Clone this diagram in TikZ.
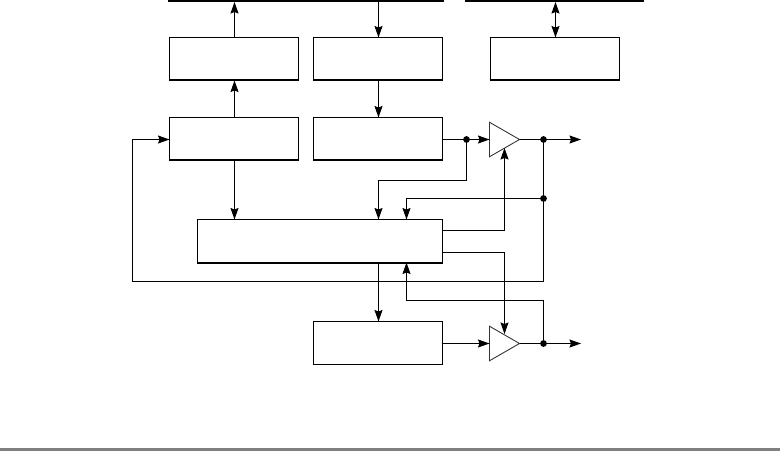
\documentclass[tikz,border=0pt]{standalone}
\usepackage{xcolor}
\usetikzlibrary{arrows.meta,shapes.geometric}

\tikzset{
  block/.style={draw, line width=0.6pt, outer sep=0pt, minimum width=25.8mm, minimum height=8.6mm, inner sep=0pt},
  amp/.style={draw=black!80, line width=0.5pt, outer sep=0pt, isosceles triangle, isosceles triangle stretches, minimum width=6.9mm, minimum height=6mm, inner sep=0pt},
  sig/.style={line width=0.6pt, -{Stealth[length=2.3mm,width=1.6mm,inset=0.3mm]}},
  sigboth/.style={line width=0.6pt, {Stealth[length=2.3mm,width=1.6mm,inset=0.3mm]}-{Stealth[length=2.3mm,width=1.6mm,inset=0.3mm]}},
  wire/.style={line width=0.6pt},
  dot/.style={circle, fill=black, minimum size=1.35mm, inner sep=0pt},
  bus/.style={line width=0.4mm}
}

\begin{document}
\begin{tikzpicture}[x=0.2mm,y=-0.2mm]
    \useasboundingbox (0,0) rectangle (780,451) ;
    % buses along the top
    \coordinate (busAL) at (168,1) ;
    \coordinate (busAR) at (444,1) ;
    \coordinate (busBL) at (465,1) ;
    \coordinate (busBR) at (644,1) ;
    \draw[bus] (busAL) -- (busAR) ;
    \draw[bus] (busBL) -- (busBR) ;
    % blocks
    \node[block] at (234,59) (outreg) {} ;
    \node[block] at (378,59) (inreg) {} ;
    \node[block] at (555,59) (ctlreg) {} ;
    \node[block] at (234,139) (txsr) {} ;
    \node[block] at (378,139) (rxsr) {} ;
    \node[block, minimum width=49mm] at (320,241) (logic) {} ;
    \node[block] at (378,343) (lower) {} ;
    \foreach \n in {outreg,inreg,ctlreg,txsr,rxsr,logic}
      \draw[bus, yshift=-0.1mm] (\n.south west) -- (\n.south east) ;
    % amplifiers
    \node[amp, anchor=lower side] at (489.5,139.5) (ampA) {} ;
    \node[amp, anchor=lower side] at (489.5,343.5) (ampB) {} ;
    % joints
    \node[dot] at (466.5,139.5) (jrx) {} ;
    \node[dot] at (543.5,139.5) (joutA) {} ;
    \node[dot] at (543.5,198.5) (jfb) {} ;
    \node[dot] at (543.5,343.5) (joutB) {} ;
    % columns the connectors run in
    \coordinate (colA) at (234.5,0) ;
    \coordinate (colB) at (378.5,0) ;
    \coordinate (colC) at (555.5,0) ;
    \coordinate (colD) at (406.5,0) ;
    % free ends
    \coordinate (endA) at (581,139.5) ;
    \coordinate (endB) at (581,343.5) ;
    \coordinate (ctlA) at (504.5,148) ;
    \coordinate (ctlB) at (504.5,334) ;
    \coordinate (logA) at (442.5,230.5) ;
    \coordinate (logB) at (442.5,252.5) ;
    % bus connections
    \draw[sig, shorten >=0.2mm] (colA |- outreg.north) -- (colA |- busAL) ;
    \draw[sig] (colB |- busAL) -- (colB |- inreg.north) ;
    \draw[sigboth, shorten <=0.2mm] (colC |- busBL) -- (colC |- ctlreg.north) ;
    % between the blocks
    \draw[sig] (colA |- txsr.north) -- (colA |- outreg.south) ;
    \draw[sig] (colB |- inreg.south) -- (colB |- rxsr.north) ;
    \draw[sig] (colA |- txsr.south) -- (colA |- logic.north) ;
    \draw[wire] (rxsr.east |- jrx) -- (jrx) ;
    \draw[sig] (jrx) -- (ampA.lower side) ;
    \draw[sig] (jrx) -- (466.5,180.5) -- (378.5,180.5) -- (colB |- logic.north) ;
    \draw[wire] (ampA.apex) -- (joutA) ;
    \draw[sig] (joutA) -- (endA) ;
    \draw[wire] (joutA) -- (jfb) ;
    \draw[sig] (jfb) -- (543.5,281.5) -- (132.5,281.5) -- (132.5,139.5) -- (txsr.west |- jrx) ;
    \draw[sig] (jfb) -- (406.5,198.5) -- (colD |- logic.north) ;
    \draw[sig] (logA) -- (504.5,230.5) -- (ctlA) ;
    \draw[sig] (logB) -- (504.5,252.5) -- (ctlB) ;
    \draw[sig] (colB |- logic.south) -- (colB |- lower.north) ;
    \draw[sig] (lower.east |- joutB) -- (ampB.lower side) ;
    \draw[wire] (ampB.apex) -- (joutB) ;
    \draw[sig] (joutB) -- (endB) ;
    \draw[sig] (joutB) -- (543.5,300.5) -- (406.5,300.5) -- (colD |- logic.south) ;
    % rule at the foot of the page
    \fill[gray] (0,448) rectangle (780,451) ;
\end{tikzpicture}
\end{document}
